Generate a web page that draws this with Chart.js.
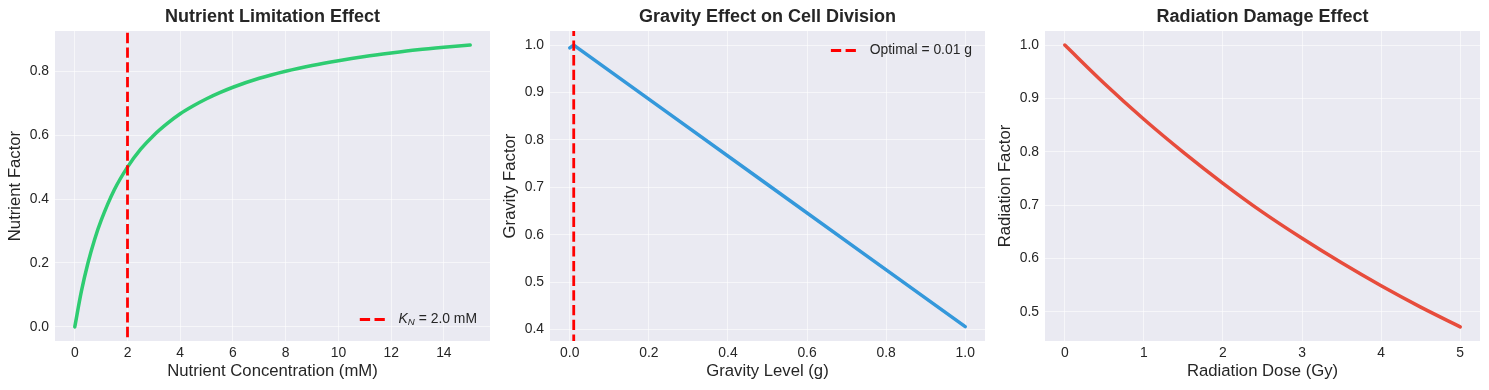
<!DOCTYPE html>
<html>
<head>
<meta charset="utf-8">
<title>Cell growth factors</title>
<script src="https://cdn.jsdelivr.net/npm/chart.js@4.4.1/dist/chart.umd.min.js"></script>
<style>
    body { margin: 0; background: #ffffff; }
    .panel { position: absolute; top: 0; height: 390px; }
</style>
</head>
<body>
<div class="panel" style="left:0px;width:495px"><canvas id="nutrient-chart" width="495" height="390"></canvas></div>
<div class="panel" style="left:495px;width:495px"><canvas id="gravity-chart" width="495" height="390"></canvas></div>
<div class="panel" style="left:990px;width:499px"><canvas id="radiation-chart" width="499" height="390"></canvas></div>
<script>
// Values
const nutrientConc = [0, 0.25, 0.5, 0.75, 1, 1.5, 2, 2.5, 3, 3.5, 4, 4.5, 5, 5.5, 6, 7, 8, 9, 10, 11, 12, 13, 14, 15];
const nutrientFactor = [0, 0.111, 0.2, 0.273, 0.333, 0.429, 0.5, 0.556, 0.6, 0.636, 0.667, 0.692, 0.714, 0.733, 0.75, 0.778, 0.8, 0.818, 0.833, 0.846, 0.857, 0.867, 0.875, 0.882];
const nutrientK = 2.0;
const nutrientXTicks = [0, 2, 4, 6, 8, 10, 12, 14];
const nutrientYTicks = [0, 0.2, 0.4, 0.6, 0.8];

const gravityLevel = [0, 0.01, 0.25, 0.5, 0.75, 1.0];
const gravityFactor = [0.994, 1.0, 0.856, 0.706, 0.556, 0.406];
const gravityOptimal = 0.01;
const gravityXTicks = [0, 0.2, 0.4, 0.6, 0.8, 1.0];
const gravityYTicks = [0.4, 0.5, 0.6, 0.7, 0.8, 0.9, 1.0];

const radiationDose = [0, 0.5, 1, 1.5, 2, 2.5, 3, 3.5, 4, 4.5, 5];
const radiationFactor = [1.0, 0.928, 0.861, 0.799, 0.741, 0.687, 0.638, 0.592, 0.549, 0.509, 0.472];
const radiationXTicks = [0, 1, 2, 3, 4, 5];
const radiationYTicks = [0.5, 0.6, 0.7, 0.8, 0.9, 1.0];

const FONT = "'Liberation Sans', Arial, sans-serif";
const TEXT = '#262626';
const GRID = 'rgba(255,255,255,0.55)';
const DASH = [10.3, 4.4];

function toPoints(xs, ys) {
    return xs.map((x, i) => ({ x: x, y: ys[i] }));
}

// Grey plot background, like the seaborn darkgrid style
const plotBackground = {
    id: 'plotBackground',
    beforeDraw(chart) {
        const { ctx, chartArea: a } = chart;
        ctx.save();
        ctx.fillStyle = '#eaeaf2';
        ctx.fillRect(a.left, a.top, a.right - a.left, a.bottom - a.top);
        ctx.restore();
    }
};

// Legend with a dashed handle and mixed italic / subscript text
function dashLegend(legend) {
    return {
        id: 'dashLegend',
        afterDatasetsDraw(chart) {
            if (!legend) return;
            const { ctx, chartArea: a } = chart;
            const fs = 13.9;
            const fontOf = p => (p.italic ? 'italic ' : '') + (p.size || fs) + 'px ' + FONT;
            ctx.save();
            let width = 0;
            legend.parts.forEach(p => {
                ctx.font = fontOf(p);
                width += ctx.measureText(p.text).width;
            });
            const textRight = a.right - 13;
            const textLeft = textRight - width;
            const cy = legend.corner === 'lower' ? a.bottom - 21.5 : a.top + 19.5;

            ctx.strokeStyle = '#ff0000';
            ctx.lineWidth = 2.8;
            ctx.setLineDash(DASH);
            ctx.beginPath();
            ctx.moveTo(textLeft - 38.8, cy);
            ctx.lineTo(textLeft - 11, cy);
            ctx.stroke();
            ctx.setLineDash([]);

            ctx.fillStyle = TEXT;
            ctx.textBaseline = 'middle';
            ctx.textAlign = 'left';
            let x = textLeft;
            legend.parts.forEach(p => {
                ctx.font = fontOf(p);
                ctx.fillText(p.text, x, cy + (p.shift || 0));
                x += ctx.measureText(p.text).width;
            });
            ctx.restore();
        }
    };
}

function makeChart(id, cfg) {
    const ctx = document.getElementById(id).getContext('2d');
    const datasets = [];
    if (cfg.vline !== undefined) {
        datasets.push({
            data: [{ x: cfg.vline, y: cfg.yMin - 1 }, { x: cfg.vline, y: cfg.yMax + 1 }],
            borderColor: '#ff0000',
            borderWidth: 2.8,
            borderDash: DASH,
            pointRadius: 0,
            clip: 0,
            order: 0
        });
    }
    datasets.push({
        data: toPoints(cfg.xs, cfg.ys),
        borderColor: cfg.color,
        borderWidth: 3.5,
        pointRadius: 0,
        tension: cfg.smooth ? 0.4 : 0,
        cubicInterpolationMode: cfg.smooth ? 'monotone' : 'default',
        borderCapStyle: 'round',
        order: 1
    });

    return new Chart(ctx, {
        type: 'line',
        data: { datasets: datasets },
        options: {
            responsive: false,
            animation: false,
            events: [],
            layout: { padding: { left: 0, right: cfg.rightPad, top: 0, bottom: 0 } },
            plugins: {
                legend: { display: false },
                tooltip: { enabled: false },
                title: {
                    display: true,
                    text: cfg.title,
                    fullSize: false,
                    color: TEXT,
                    font: { family: FONT, size: 18, weight: 'bold', lineHeight: 1.2 },
                    padding: { top: 6, bottom: 3.4 }
                }
            },
            scales: {
                x: {
                    type: 'linear',
                    min: cfg.xMin,
                    max: cfg.xMax,
                    afterBuildTicks: s => { s.ticks = cfg.xTicks.map(v => ({ value: v })); },
                    afterFit: s => { s.height = 49; },
                    grid: { color: GRID, lineWidth: 1, drawTicks: false },
                    border: { display: false },
                    ticks: {
                        color: TEXT,
                        padding: 4,
                        maxRotation: 0,
                        font: { family: FONT, size: 13.9 },
                        callback: v => cfg.xFmt(v)
                    },
                    title: {
                        display: true,
                        text: cfg.xLabel,
                        color: TEXT,
                        font: { family: FONT, size: 16.7, lineHeight: 1.2 },
                        padding: { top: 0, bottom: 9 }
                    }
                },
                y: {
                    type: 'linear',
                    min: cfg.yMin,
                    max: cfg.yMax,
                    afterBuildTicks: s => { s.ticks = cfg.yTicks.map(v => ({ value: v })); },
                    afterFit: s => { s.width = 55; },
                    grid: { color: GRID, lineWidth: 1, drawTicks: false },
                    border: { display: false },
                    ticks: {
                        color: TEXT,
                        padding: 6,
                        font: { family: FONT, size: 13.9 },
                        callback: v => v.toFixed(1)
                    },
                    title: {
                        display: true,
                        text: cfg.yLabel,
                        color: TEXT,
                        font: { family: FONT, size: 16.7, lineHeight: 1.2 },
                        padding: { top: 5.7, bottom: 0 }
                    }
                }
            }
        },
        plugins: [plotBackground, dashLegend(cfg.legend)]
    });
}

makeChart('nutrient-chart', {
    title: 'Nutrient Limitation Effect',
    xs: nutrientConc, ys: nutrientFactor, color: '#2ecc71', smooth: true,
    vline: nutrientK,
    xMin: -0.75, xMax: 15.75, yMin: -0.0441, yMax: 0.926,
    xTicks: nutrientXTicks, yTicks: nutrientYTicks,
    xFmt: v => String(v),
    xLabel: 'Nutrient Concentration (mM)', yLabel: 'Nutrient Factor',
    rightPad: 5,
    legend: {
        corner: 'lower',
        parts: [
            { text: 'K', italic: true },
            { text: 'N', italic: true, size: 9.7, shift: 3 },
            { text: ' = ' + nutrientK.toFixed(1) + ' mM' }
        ]
    }
});

makeChart('gravity-chart', {
    title: 'Gravity Effect on Cell Division',
    xs: gravityLevel, ys: gravityFactor, color: '#3498db', smooth: false,
    vline: gravityOptimal,
    xMin: -0.05, xMax: 1.05, yMin: 0.3758, yMax: 1.0297,
    xTicks: gravityXTicks, yTicks: gravityYTicks,
    xFmt: v => v.toFixed(1),
    xLabel: 'Gravity Level (g)', yLabel: 'Gravity Factor',
    rightPad: 5,
    legend: {
        corner: 'upper',
        parts: [{ text: 'Optimal = ' + gravityOptimal + ' g' }]
    }
});

makeChart('radiation-chart', {
    title: 'Radiation Damage Effect',
    xs: radiationDose, ys: radiationFactor, color: '#e74c3c', smooth: true,
    xMin: -0.25, xMax: 5.25, yMin: 0.4456, yMax: 1.0264,
    xTicks: radiationXTicks, yTicks: radiationYTicks,
    xFmt: v => String(v),
    xLabel: 'Radiation Dose (Gy)', yLabel: 'Radiation Factor',
    rightPad: 9
});
</script>
</body>
</html>
